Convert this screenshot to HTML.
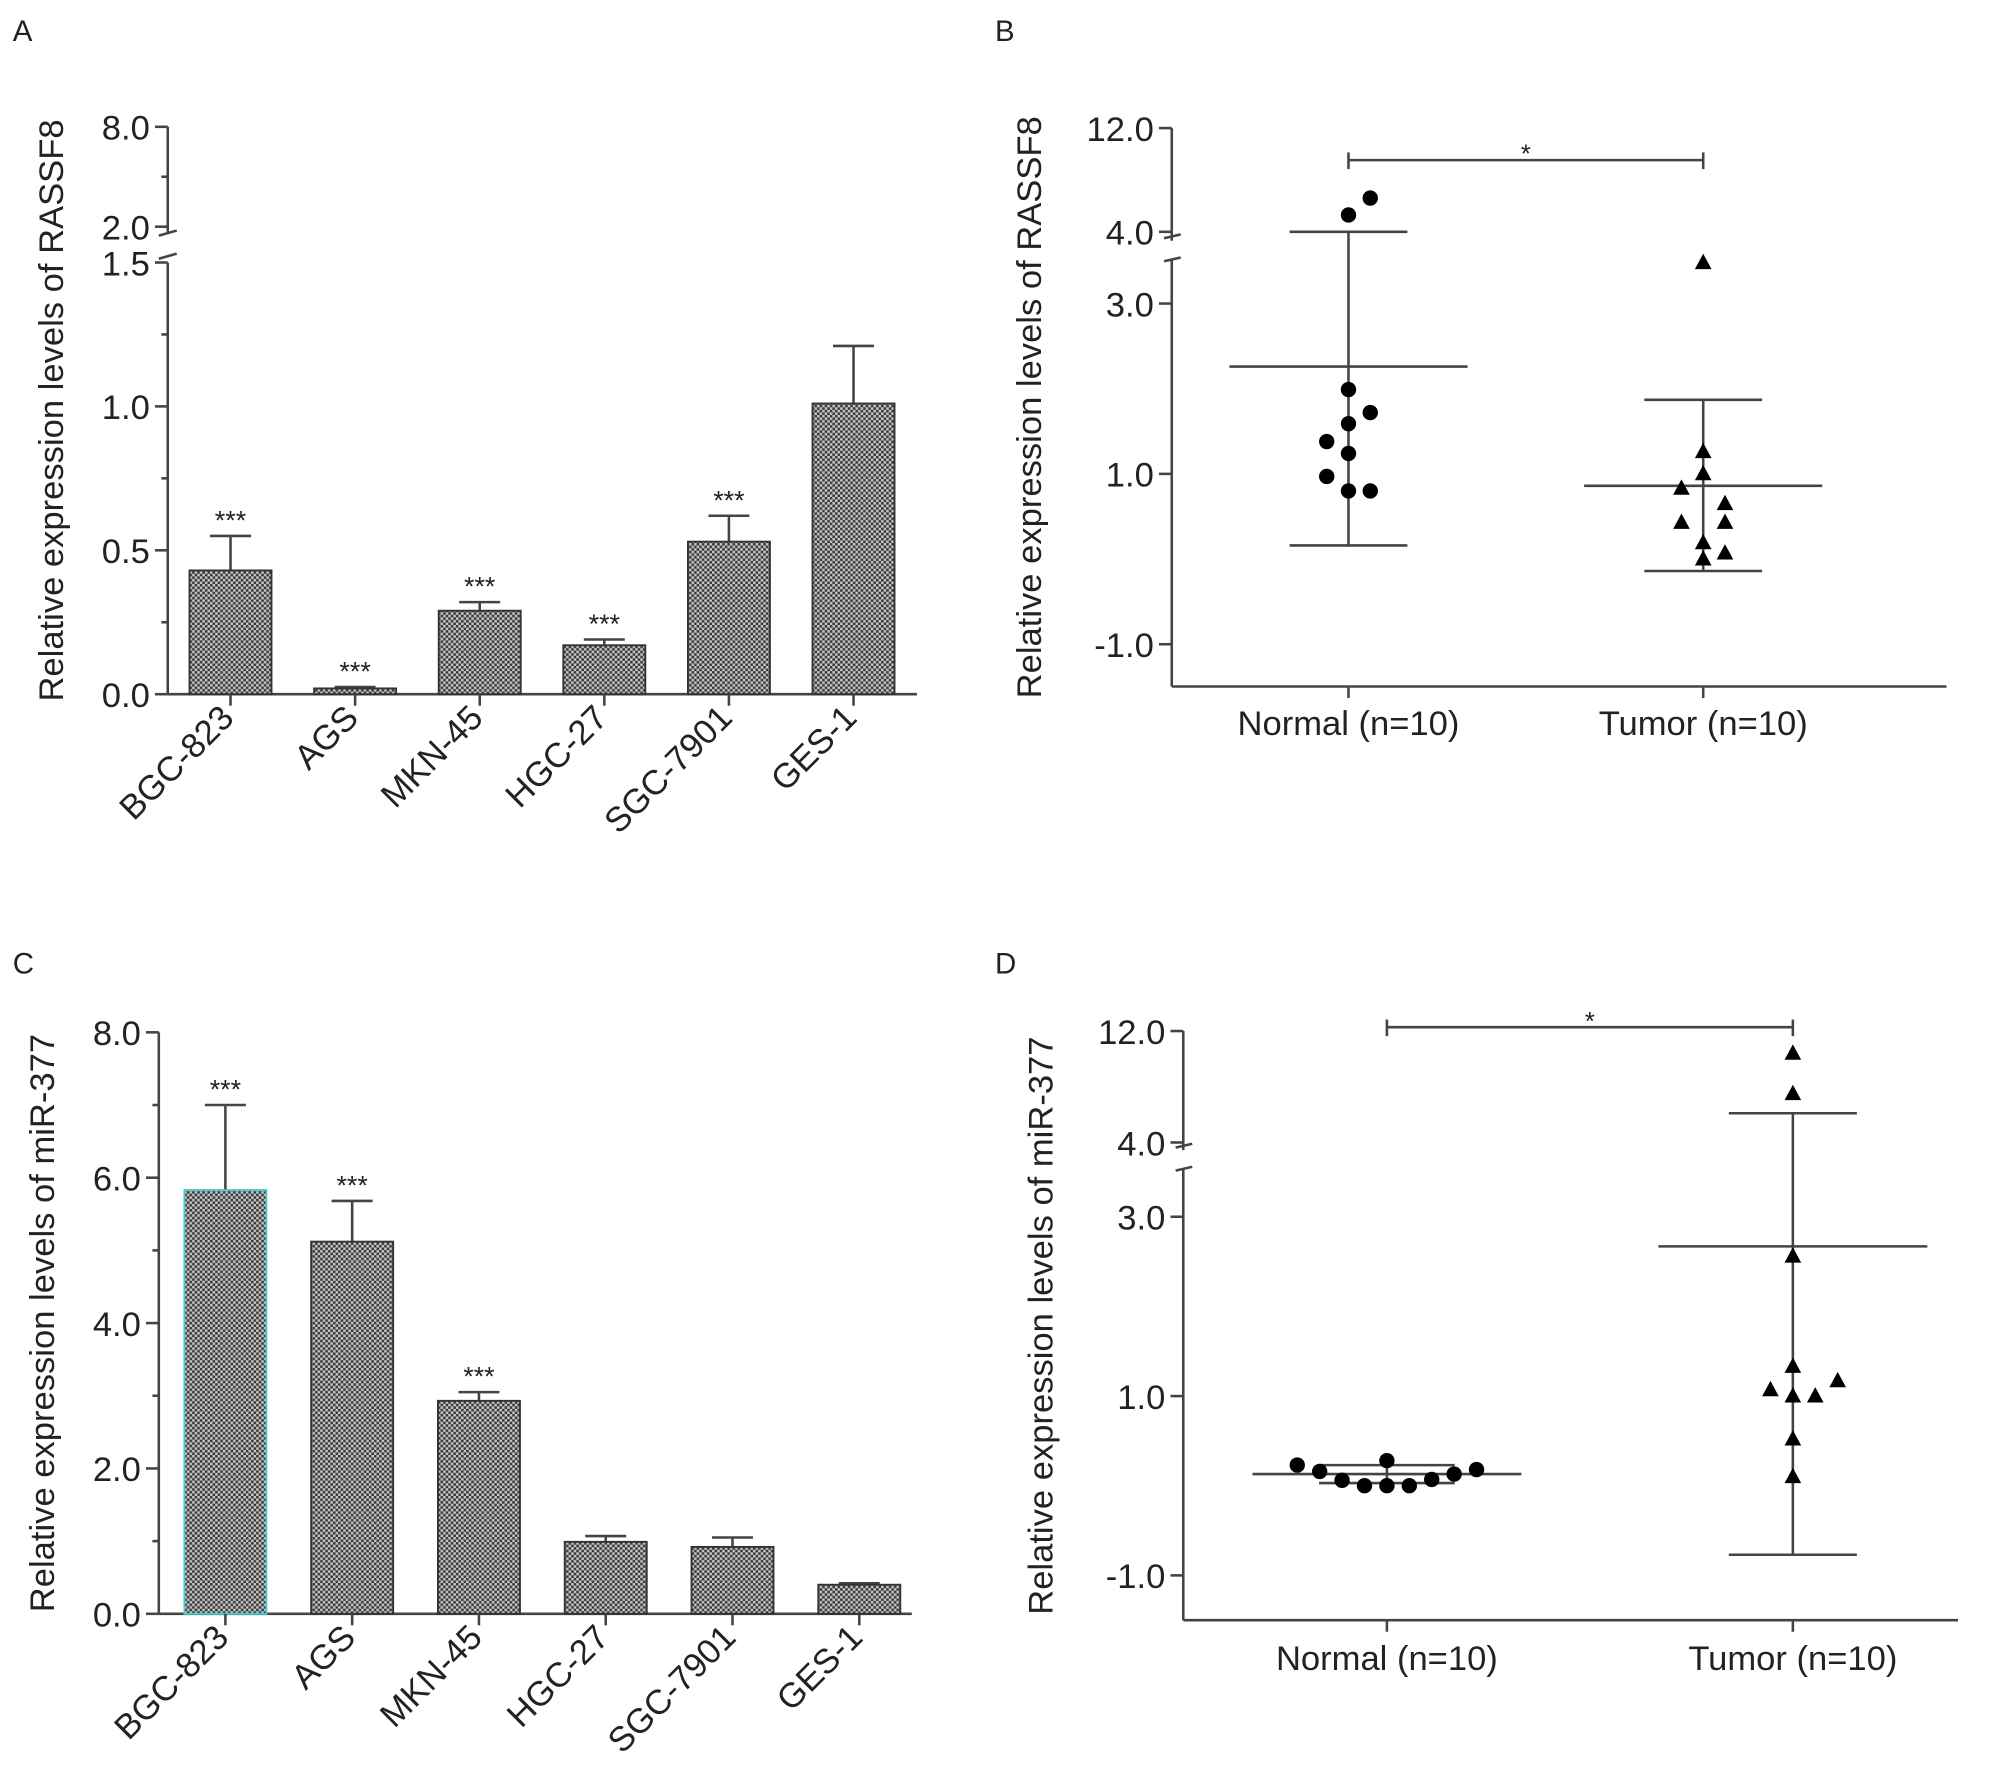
<!DOCTYPE html>
<html><head><meta charset="utf-8"><style>
html,body{margin:0;padding:0;background:#fff;}
svg{display:block;}
text{font-family:"Liberation Sans",Arial,sans-serif;fill:#222;}
</style></head><body>
<svg id="fig" width="2008" height="1788" viewBox="0 0 1568 1396" preserveAspectRatio="none" xmlns="http://www.w3.org/2000/svg">
<defs>
<pattern id="dots" width="4" height="4" patternUnits="userSpaceOnUse">
<rect width="4" height="4" fill="#c4c4c4"/>
<rect x="0" y="0" width="2" height="2" fill="#3a3a3a"/>
<rect x="2" y="2" width="2" height="2" fill="#3a3a3a"/>
</pattern>
</defs>
<g id="root"></g>
</svg>
<script>
// Panel A data
const catsA = ["BGC-823","AGS","MKN-45","HGC-27","SGC-7901","GES-1"];
const meanA = [0.43,0.02,0.29,0.17,0.53,1.01];
const errA = [0.55,0.025,0.32,0.19,0.62,1.21];
const starA = ["***","***","***","***","***",""];
// Panel C data
const catsC = ["BGC-823","AGS","MKN-45","HGC-27","SGC-7901","GES-1"];
const meanC = [5.83,5.12,2.93,0.99,0.92,0.40];
const errC = [7.0,5.68,3.05,1.07,1.05,0.42];
const starC = ["***","***","***","","",""];
// Panel B data
const normalB = [6.6,5.3,1.99,1.72,1.59,1.38,1.24,0.97,0.80,0.80];
const tumorB = [3.48,1.26,1.0,0.83,0.65,0.43,0.43,0.19,0.07,0.0];
const statsB = [[2.26,4.0,0.16],[0.86,1.87,-0.14]];
// Panel D data
const normalD = [0.23,0.16,0.06,0.0,0.28,0.0,0.0,0.07,0.13,0.18];
const tumorD = [10.4,7.5,2.56,1.33,1.07,1.0,1.0,1.17,0.52,0.1];
const statsD = [[0.13,0.23,0.03],[2.67,6.1,-0.77]];
const groupNames = ["Normal (n=10)","Tumor (n=10)"];
const jitterN_B=[1,0,0,1,0,-1,0,-1,1,0];
const jitterT_B=[0,0,0,-1,1,-1,1,0,1,0];
const jitterN_D=[-4,-3,-2,-1,0,0,1,2,3,4];
const jitterT_D=[0,0,0,0,-1,0,1,2,0,0];

const NS="http://www.w3.org/2000/svg";
const root=document.getElementById('root');
const LC="#444";
function mk(tag,attrs,parent,name){const e=document.createElementNS(NS,tag);for(const k in attrs)e.setAttribute(k,attrs[k]);(parent||root).appendChild(e);


return e;}
function line(x1,y1,x2,y2,name,w){return mk('line',{x1,y1,x2,y2,stroke:LC,'stroke-width':w||2},root,name);}
function txt(x,y,s,size,anchor,name,extra){const t=mk('text',Object.assign({x,y,'font-size':size,'text-anchor':anchor||'middle'},extra||{}),root,name);t.textContent=s;return t;}

// panel labels
txt(10,32,"A",23,'start','panel-label-a');
txt(777,32,"B",23,'start','panel-label-b');
txt(10,760,"C",23,'start','panel-label-c');
txt(777,760,"D",23,'start','panel-label-d');

function barPanel(cats,mean,err,star,yf,ax,axEnd,xs,ticks,ylab,ytitle,segments,tag,highlight){
  const y0=yf(0);
  segments.forEach((s,i)=>line(ax,s[0],ax,s[1],tag+'-y-axis-seg'+i));
  line(ax,y0,axEnd,y0,tag+'-x-axis');
  ticks.forEach((v,i)=>{const y=yf(v);line(ax-10,y,ax,y,tag+'-y-tick');txt(ax-14,y+10,ylab[i],27,'end',tag+'-y-tick-label');});
  cats.forEach((c,i)=>{
    const cx=xs(i),yt=yf(mean[i]),ye=yf(err[i]);
    line(cx,ye,cx,yt,tag+'-error-bar');
    line(cx-16,ye,cx+16,ye,tag+'-error-cap');
    mk('rect',{x:cx-32,y:yt,width:64,height:y0-yt,fill:'url(#dots)',stroke:(highlight&&i===0)?'#4cc':'#333','stroke-width':1.5},root,tag+'-bar-'+c.toLowerCase());
    if(star[i])txt(cx,ye-5,star[i],21,'middle',tag+'-significance');
    line(cx,y0,cx,y0+9,tag+'-x-tick');
    txt(cx+4,y0+20,c,27,'end',tag+'-x-label',{transform:`rotate(-45 ${cx+4} ${y0+20})`});
  });
  txt(0,0,ytitle,27,'middle',tag+'-y-axis-title',{transform:`translate(${ax-82},${(segments[0][0]+y0)/2}) rotate(-90)`});
}

// Panel A
const yA=v=>v<=1.5?542-v*224.7:177-(v-2)*13;
barPanel(catsA,meanA,errA,starA,yA,131,716,i=>180+i*97.3,[0,0.5,1.0,1.5,2,8],["0.0","0.5","1.0","1.5","2.0","8.0"],"Relative expression levels of RASSF8",[[99,181],[205,542]],'a',false);
[0.25,0.75,1.25].forEach(v=>line(126,yA(v),131,yA(v),'a-minor-tick'));
line(126,138,131,138,'a-minor-tick');
line(124,184,138,180,'a-axis-break');line(124,202,138,198,'a-axis-break');

// Panel C
const yC=v=>1260-v*56.75;
barPanel(catsC,meanC,errC,starC,yC,124,712,i=>176+i*99,[0,2,4,6,8],["0.0","2.0","4.0","6.0","8.0"],"Relative expression levels of miR-377",[[806,1260]],'c',true);
[1,3,5,7].forEach(v=>line(119,yC(v),124,yC(v),'c-minor-tick'));

function scatterPanel(tag,ax,yf,yb,xTop,segments,ticks,ylab,cx,nvals,tvals,jn,jt,js,stats,ytitle,bracketY,meanHalf,capHalf,labelY){
  segments.forEach((s,i)=>line(ax,s[0],ax,s[1],tag+'-y-axis-seg'+i));
  line(ax,yb,ax+605,yb,tag+'-x-axis');
  ticks.forEach((v,i)=>{const y=yf(v);line(ax-10,y,ax,y,tag+'-y-tick');txt(ax-14,y+10,ylab[i],27,'end',tag+'-y-tick-label');});
  groupNames.forEach((g,gi)=>{
    const x=cx[gi];
    line(x,yb,x,yb+9,tag+'-x-tick');
    txt(x,labelY,g,27,'middle',tag+'-x-label');
    const s=stats[gi];
    line(x,yf(s[1]),x,yf(s[2]),tag+'-error-bar');
    line(x-capHalf[gi],yf(s[1]),x+capHalf[gi],yf(s[1]),tag+'-error-cap');
    line(x-capHalf[gi],yf(s[2]),x+capHalf[gi],yf(s[2]),tag+'-error-cap');
    line(x-meanHalf,yf(s[0]),x+meanHalf,yf(s[0]),tag+'-mean-line');
    const vals=gi?tvals:nvals, jj=gi?jt:jn;
    vals.forEach((v,i)=>{const px=x+jj[i]*js,py=yf(v);
      if(gi===0)mk('circle',{cx:px,cy:py,r:6,fill:'#000'},root,tag+'-normal-point');
      else mk('path',{d:`M${px},${py-7}L${px+6.5},${py+5}L${px-6.5},${py+5}Z`,fill:'#000'},root,tag+'-tumor-point');
    });
  });
  line(cx[0],bracketY,cx[1],bracketY,tag+'-significance-bracket');
  line(cx[0],bracketY-6,cx[0],bracketY+7,tag+'-bracket-end');
  line(cx[1],bracketY-6,cx[1],bracketY+7,tag+'-bracket-end');
  txt((cx[0]+cx[1])/2,bracketY+2,"*",20,'middle',tag+'-significance');
  txt(0,0,ytitle,27,'middle',tag+'-y-axis-title',{transform:`translate(${ax-102},${(segments[0][0]+yb)/2}) rotate(-90)`});
}
// Panel B
const yB=v=>v<=3.5?370-(v-1)*66.5:181-(v-4)*10.125;
scatterPanel('b',915,yB,536,100,[[100,188],[203,536]],[-1,1,3,4,12],["-1.0","1.0","3.0","4.0","12.0"],[1053,1330],normalB,tumorB,jitterN_B,jitterT_B,17,statsB,"Relative expression levels of RASSF8",125,93,[46,46],574);
line(909,186,922,183,'b-axis-break');line(909,204,922,201,'b-axis-break');
// Panel D
const yD=v=>v<=3.5?1090-(v-1)*70:892-(v-4)*10.875;
scatterPanel('d',924,yD,1265,805,[[805,898],[912,1265]],[-1,1,3,4,12],["-1.0","1.0","3.0","4.0","12.0"],[1083,1400],normalD,tumorD,jitterN_D,jitterT_D,17.5,statsD,"Relative expression levels of miR-377",802,105,[53,50],1304);
line(918,896,931,893,'d-axis-break');line(918,914,931,911,'d-axis-break');
</script>
</body></html>
